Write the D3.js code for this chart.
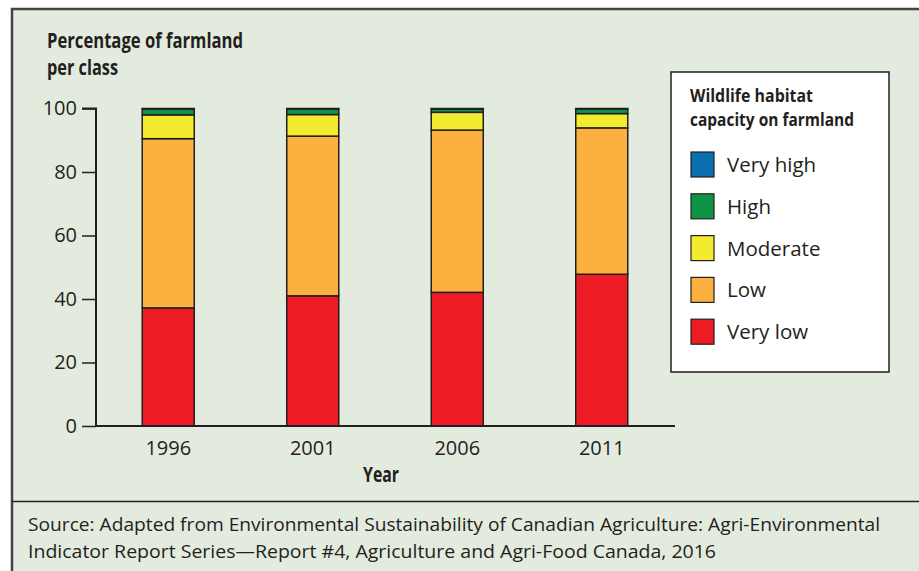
<!DOCTYPE html>
<html>
<head>
<meta charset="utf-8">
<script src="https://cdn.jsdelivr.net/npm/d3@7"></script>
<style>
  html, body { margin: 0; padding: 0; background: #fff; }
  svg { display: block; }
  .reg { font-family: "Open Sans", "Noto Sans", sans-serif; fill: #231f20; }
  .cond { font-family: "Open Sans", "Noto Sans", sans-serif; font-weight: bold; fill: #231f20; }
</style>
</head>
<body>
<div id="chart"></div>
<script>
'use strict';

// values (percent of farmland per class)
const years = ["1996", "2001", "2006", "2011"];
const classes = ["Very low", "Low", "Moderate", "High", "Very high"];
const veryLow  = [37.2, 41.0, 42.1, 47.8];
const low      = [53.3, 50.3, 51.1, 46.1];
const moderate = [7.5, 6.8, 5.6, 4.5];
const high     = [1.8, 1.7, 1.0, 1.4];
const veryHigh = [0.2, 0.2, 0.2, 0.2];
const yTicks = [0, 20, 40, 60, 80, 100];
const colors = ["#ed1c24", "#fbb040", "#f2eb2f", "#0f9447", "#0b6fae"];
const legendOrder = ["Very high", "High", "Moderate", "Low", "Very low"];

const W = 919, H = 571;
const svg = d3.select("#chart").append("svg")
  .attr("width", W).attr("height", H);

// condensed bold text (one text, one tspan per line): squeeze a bold face
// to the widths seen in the picture
function condText(parent, x, y, size, lineH, lines, anchor) {
  const t = parent.append("text").attr("class", "cond")
    .attr("x", x).attr("y", y).attr("font-size", size)
    .attr("text-anchor", anchor || "start");
  lines.forEach((l, i) => {
    t.append("tspan").attr("x", x).attr("y", y + i * lineH)
      .attr("textLength", l[1]).attr("lengthAdjust", "spacingAndGlyphs")
      .text(l[0]);
  });
  return t;
}

// panel
svg.append("rect").attr("x", 12).attr("y", 9).attr("width", W + 20).attr("height", H + 20)
  .attr("fill", "#e3ebdf").attr("stroke", "#444").attr("stroke-width", 2.5);
svg.append("line").attr("x1", 12).attr("x2", W).attr("y1", 501.5).attr("y2", 501.5)
  .attr("stroke", "#231f20").attr("stroke-width", 1.5);

const rows = years.map((y, i) => ({
  year: y,
  "Very low": veryLow[i], "Low": low[i], "Moderate": moderate[i],
  "High": high[i], "Very high": veryHigh[i]
}));
const stack = d3.stack().keys(classes)(rows);

const x = d3.scaleBand().domain(years).range([96, 674]).paddingInner(0.64).paddingOuter(0.32);
const y = d3.scaleLinear().domain([0, 100]).range([426, 108.5]);
const color = d3.scaleOrdinal().domain(classes).range(colors);

// bars
const g = svg.append("g");
g.selectAll("g.layer").data(stack).join("g")
  .attr("class", "layer")
  .attr("fill", d => color(d.key))
  .selectAll("rect").data(d => d).join("rect")
  .attr("x", d => x(d.data.year))
  .attr("width", x.bandwidth())
  .attr("y", d => y(d[1]))
  .attr("height", d => y(d[0]) - y(d[1]))
  .attr("stroke", "#231f20").attr("stroke-width", 1.5);

// y axis
const yAxis = svg.append("g").attr("transform", "translate(96,0)")
  .call(d3.axisLeft(y).tickValues(yTicks).tickSize(14).tickPadding(5));
yAxis.select(".domain").attr("d", `M-14,${y(100)}H0V${y(0)}`).attr("stroke", "#231f20").attr("stroke-width", 2);
yAxis.selectAll(".tick line").attr("stroke", "#231f20").attr("stroke-width", 1.5);
yAxis.selectAll(".tick text").attr("class", "reg").attr("font-size", 20).attr("fill", "#231f20");

// x axis
const xAxis = svg.append("g").attr("transform", "translate(0,426)")
  .call(d3.axisBottom(x).tickSize(0).tickPadding(15));
xAxis.select(".domain").attr("d", "M96,0H675").attr("stroke", "#231f20").attr("stroke-width", 2);
xAxis.selectAll(".tick text").attr("class", "reg").attr("font-size", 20).attr("fill", "#231f20").attr("dy", "0.71em");

// titles
condText(svg, 47, 48, 20.5, 27, [["Percentage of farmland", 196], ["per class", 71]]);
condText(svg, 381, 482, 21, 0, [["Year", 36]], "middle");

// legend
const lg = svg.append("g").attr("transform", "translate(671,72)");
lg.append("rect").attr("width", 218).attr("height", 300).attr("fill", "#fff")
  .attr("stroke", "#231f20").attr("stroke-width", 1.5);
condText(lg, 19, 29.5, 17.5, 24, [["Wildlife habitat", 123], ["capacity on farmland", 164]]);
const item = lg.selectAll("g.item").data(legendOrder).join("g")
  .attr("class", "item")
  .attr("transform", (d, i) => `translate(20,${80 + i * 41.8})`);
item.append("rect").attr("width", 23).attr("height", 25)
  .attr("fill", d => color(d)).attr("stroke", "#231f20").attr("stroke-width", 1.2);
item.append("text").attr("class", "reg").attr("x", 36).attr("y", 20).attr("font-size", 20.5).text(d => d);

// source
svg.append("text").attr("class", "reg").attr("x", 28).attr("y", 531).attr("font-size", 19)
  .attr("textLength", 852).attr("lengthAdjust", "spacingAndGlyphs")
  .text("Source: Adapted from Environmental Sustainability of Canadian Agriculture: Agri-Environmental");
svg.append("text").attr("class", "reg").attr("x", 28).attr("y", 558).attr("font-size", 19)
  .attr("textLength", 688).attr("lengthAdjust", "spacingAndGlyphs")
  .text("Indicator Report Series\u2014Report #4, Agriculture and Agri-Food Canada, 2016");
</script>
</body>
</html>
